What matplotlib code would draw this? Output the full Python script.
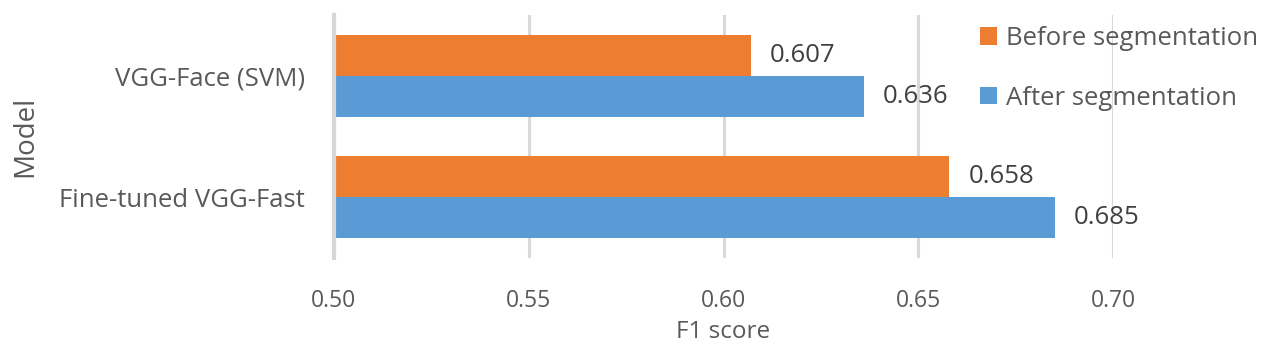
import matplotlib
matplotlib.use("Agg")
import matplotlib.pyplot as plt
import numpy as np

categories = ["Fine-tuned VGG-Fast", "VGG-Face (SVM)"]
before = [0.658, 0.607]
after = [0.685, 0.636]
series_names = ["Before segmentation", "After segmentation"]
xticks = [0.50, 0.55, 0.60, 0.65, 0.70]

plt.rcParams['font.family'] = ['Open Sans', 'DejaVu Sans']
TXT = "#595959"
ORANGE = "#ED7D31"
BLUE = "#5B9BD5"
FS = 18.5

fig = plt.figure(figsize=(12.69, 3.51), dpi=100)
ax = fig.add_axes([334/1269, 1 - 258/351, (1113-334)/1269, (258-15)/351])

y = np.arange(len(categories))
h = 0.3375
b1 = ax.barh(y + h/2, before, height=h, left=0, color=ORANGE, label=series_names[0], zorder=2)
b2 = ax.barh(y - h/2, after, height=h, left=0, color=BLUE, label=series_names[1], zorder=2)

ax.set_xlim(0.5, 0.7)
ax.set_ylim(-0.5, 1.5)
ax.set_xticks(xticks)
ax.set_xticklabels([f"{v:.2f}" for v in xticks], fontsize=16.5, color=TXT)
ax.set_yticks(y)
ax.set_yticklabels(categories, fontsize=FS, color=TXT)
ax.tick_params(axis='both', length=0)
ax.tick_params(axis='x', pad=22.5)
ax.tick_params(axis='y', pad=21)
ax.grid(axis='x', color="#D9D9D9", linewidth=2.2, zorder=0)
for s in ["top", "right", "bottom"]:
    ax.spines[s].set_visible(False)
ax.spines["left"].set_color("#D6D6D6")
ax.spines["left"].set_linewidth(3)
ax.spines["left"].set_zorder(3)

for bars, vals in ((b1, before), (b2, after)):
    for rect, v in zip(bars, vals):
        ax.annotate(f"{v:.3f}", (v, rect.get_y() + rect.get_height()/2),
                    xytext=(19, 0), textcoords="offset pixels",
                    ha="left", va="center", fontsize=FS, color="#404040")

ax.set_xlabel("F1 score", fontsize=17.5, color=TXT, labelpad=5)
ax.set_ylabel("Model", fontsize=20, color=TXT, labelpad=14)

leg = ax.legend(loc="upper left", bbox_to_anchor=(980/1269, 1 - 26/351), bbox_transform=fig.transFigure,
                frameon=False, fontsize=FS, handlelength=0.65, handleheight=0.65,
                handletextpad=0.35, labelspacing=1.35, borderaxespad=0, borderpad=0)
for t in leg.get_texts():
    t.set_color(TXT)

fig.savefig("out.png", dpi=100)
